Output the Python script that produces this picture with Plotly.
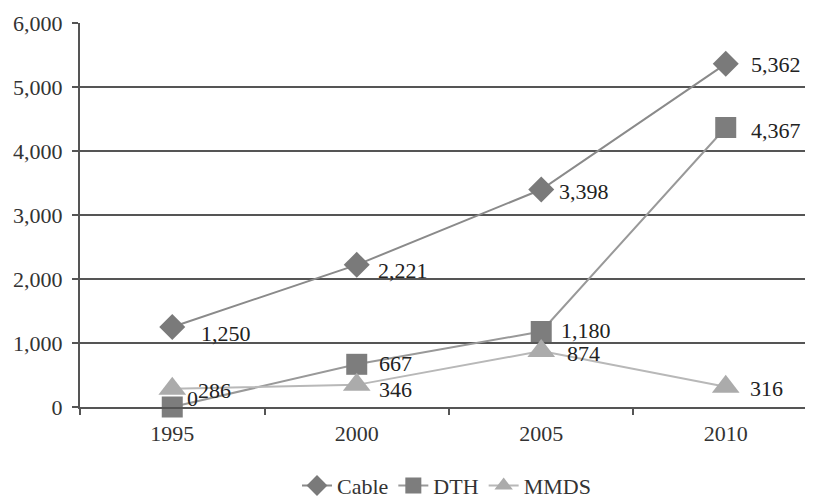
import plotly.graph_objects as go

years = ["1995", "2000", "2005", "2010"]
cable = [1250, 2221, 3398, 5362]
dth = [0, 667, 1180, 4367]
mmds = [286, 346, 874, 316]
y_ticks = [0, 1000, 2000, 3000, 4000, 5000, 6000]

# label offsets (pixels) for each point: (dx, dy) with dy positive = up
cable_off = [(27, -6), (19, -6), (16, -2), (23, -1)]
dth_off = [(13, 9), (20, 1), (18, 1), (23, -3)]
mmds_off = [(24, -2), (20, -5), (24, -2), (22, -2)]

FONT = "Liberation Serif"
FS = 22

def fmt(v):
    return f"{v:,}"

fig = go.Figure()
series = [
    ("Cable", cable, cable_off, dict(color="#8a8a8a", width=2),
     dict(symbol="diamond", size=20, color="#7a7a7a")),
    ("DTH", dth, dth_off, dict(color="#999999", width=2),
     dict(symbol="square", size=21, color="#7d7d7d")),
    ("MMDS", mmds, mmds_off, dict(color="#b8b8b8", width=2),
     dict(symbol="triangle-up", size=24, color="#ababab")),
]
annotations = []
for name, vals, offs, line, marker in series:
    fig.add_trace(go.Scatter(x=years, y=vals, name=name, mode="lines+markers",
                             line=line, marker=marker, cliponaxis=False))
    for i, (yv, (dx, dy)) in enumerate(zip(vals, offs)):
        annotations.append(dict(x=i, y=yv, xref="x", yref="y", text=fmt(yv), showarrow=False,
                                xanchor="left", yanchor="middle", xshift=dx, yshift=dy,
                                font=dict(family=FONT, size=FS, color="#222")))

fig.update_layout(
    width=805, height=492,
    margin=dict(l=72, r=0, t=15, b=93, autoexpand=False),
    paper_bgcolor="white", plot_bgcolor="white",
    font=dict(family=FONT, size=FS, color="#333"),
    showlegend=True,
    annotations=annotations,
    legend=dict(orientation="h", x=0.5, xanchor="center", y=-0.205, yanchor="middle",
                font=dict(family=FONT, size=FS, color="#333"),
                itemwidth=30, tracegroupgap=0),
)
fig.update_xaxes(
    type="category", range=[-0.5, 3.473], automargin=False,
    showline=True, linecolor="#555", linewidth=2,
    ticks="outside", tickson="boundaries", ticklen=6, tickcolor="#555", tickwidth=2,
    ticklabelstandoff=6,
    showgrid=False, zeroline=False,
    tickfont=dict(family=FONT, size=FS, color="#333"),
)
fig.update_yaxes(
    range=[0, 6000], tickvals=y_ticks, ticktext=[fmt(v) for v in y_ticks],
    automargin=False,
    showline=True, linecolor="#555", linewidth=2,
    ticks="outside", ticklen=6, tickcolor="#555", tickwidth=2,
    ticklabelstandoff=5,
    showgrid=True, gridcolor="#555", gridwidth=2, zeroline=False,
    tickfont=dict(family=FONT, size=FS, color="#333"),
)

fig.write_html("out.html")
